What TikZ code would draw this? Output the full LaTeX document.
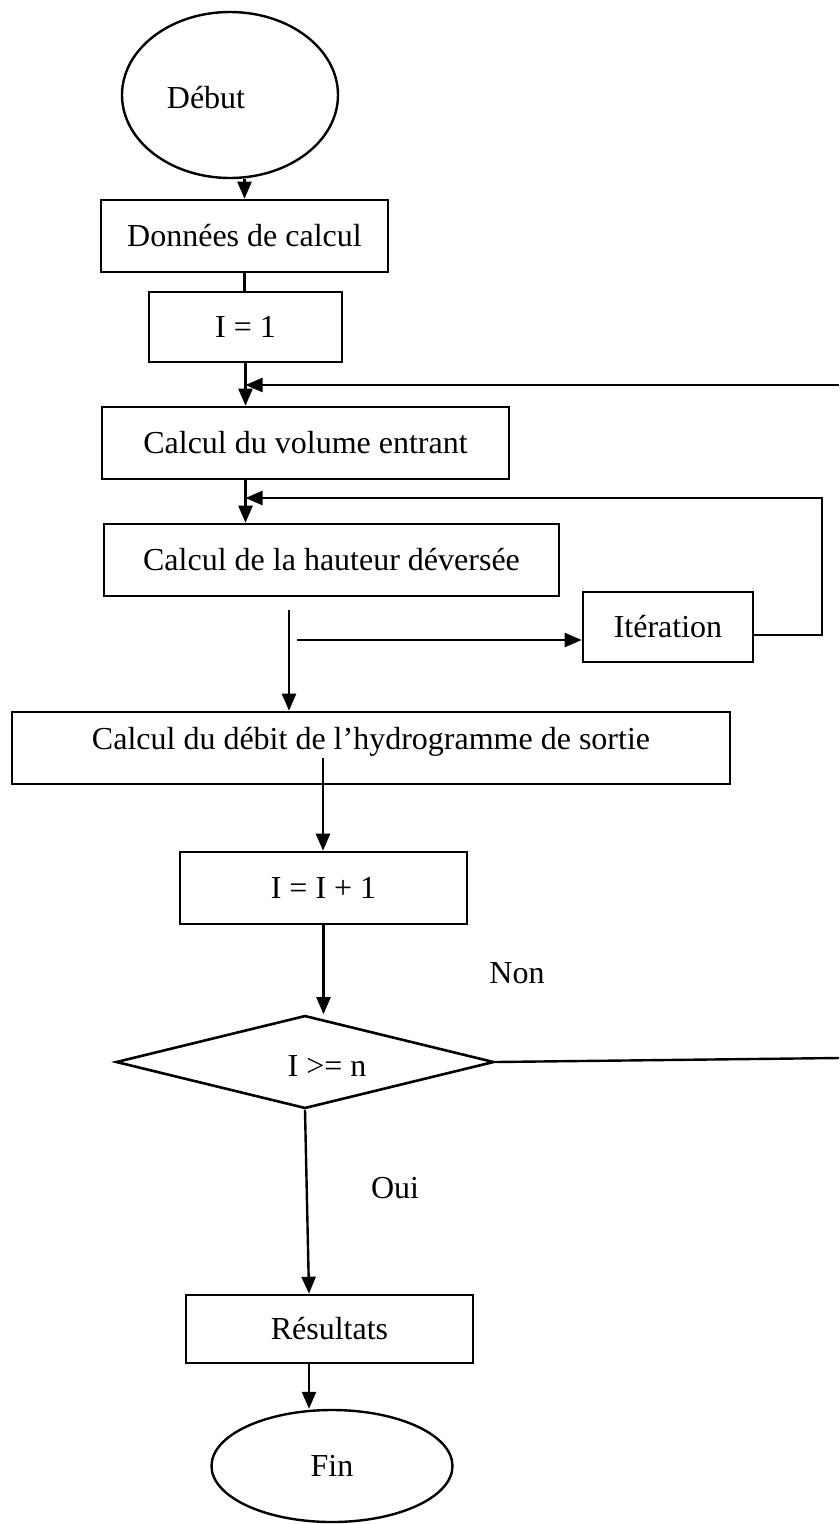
\documentclass[tikz,border=0pt]{standalone}
\usepackage{fontspec}
\setmainfont{Liberation Serif}
\usetikzlibrary{shapes.geometric,arrows.meta}
\begin{document}
\begin{tikzpicture}[x=1pt,y=-1pt,
  every node/.style={font=\fontsize{32}{38}\selectfont},
  stepbox/.style={draw, line width=2.6pt, inner sep=0pt, rectangle},
  term/.style={draw, line width=2.4pt, ellipse, inner sep=0pt},
  cond/.style={draw, line width=2.6pt, diamond, inner sep=0pt},
  conn/.style={line width=2.4pt},
  arr/.style={line width=2.4pt, -{Triangle[length=17pt,width=14pt]}},
  lbl/.style={inner sep=0pt}]
\useasboundingbox (0,0) rectangle (839,1524);

\node[term, minimum width=216pt, minimum height=166pt,
      label={[lbl, xshift=-24pt, yshift=-3pt]center:Début}] (debut) at (230,95) {};
\node[stepbox, minimum width=287pt, minimum height=72pt] (donnees) at (244.5,236) {Données de calcul};
\node[stepbox, minimum width=193pt, minimum height=70pt] (i1) at (245.5,327) {I = 1};
\node[stepbox, minimum width=407pt, minimum height=72pt] (volume) at (305.5,443) {Calcul du volume entrant};
\node[stepbox, minimum width=455pt, minimum height=72pt] (hauteur) at (331.5,560) {Calcul de la hauteur déversée};
\node[stepbox, minimum width=170pt, minimum height=70pt] (iter) at (668,627) {Itération};
\node[stepbox, minimum width=718pt, minimum height=72pt, text depth=20pt] (debit) at (371,748) {Calcul du débit de l’hydrogramme de sortie};
\node[stepbox, minimum width=287pt, minimum height=72pt] (incr) at (323.5,888) {I = I + 1};
\node[cond, minimum width=378pt, minimum height=93pt,
      label={[lbl, xshift=22pt, yshift=-4pt]center:I >= n}] (test) at (305,1062) {};
\node[stepbox, minimum width=287pt, minimum height=68pt] (res) at (329.5,1329) {Résultats};
\node[term, minimum width=241pt, minimum height=112pt] (fin) at (332,1466) {Fin};

\node[lbl] (non) at (517,973) {Non};
\node[lbl] (oui) at (395,1188) {Oui};

\coordinate (topright) at (839,385);
\coordinate (loopx) at (822,498);
\coordinate (h1) at (289,610);
\coordinate (h2) at (297,640);
\coordinate (d1) at (323,758);
\coordinate (noend) at (839,1058);

\draw[arr] (donnees.north |- debut.south) -- (donnees.north);
\draw[conn] (donnees.south) -- (donnees.south |- i1.north);
\draw[arr] (i1.south) -- (i1.south |- volume.north);
\draw[arr] (topright) -- (topright -| i1.south);
\draw[arr] (i1.south |- volume.south) -- (i1.south |- hauteur.north);
\draw[arr] ([yshift=-8pt]iter.east) -| (loopx) -- (loopx -| i1.south);
\draw[arr] (h1) -- (h1 |- debit.north);
\draw[arr] (h2) -- (h2 -| iter.west);
\draw[arr] (d1) -- (d1 |- incr.north);
\draw[arr] (incr.south) -- (incr.south |- test.north);
\draw[conn] (test.east) -- (noend);
\draw[arr] (test.south) -- ([xshift=4pt]test.south |- res.north);
\draw[arr] ([xshift=4pt]test.south |- res.south) -- ([xshift=4pt]test.south |- fin.north);
\end{tikzpicture}
\end{document}
